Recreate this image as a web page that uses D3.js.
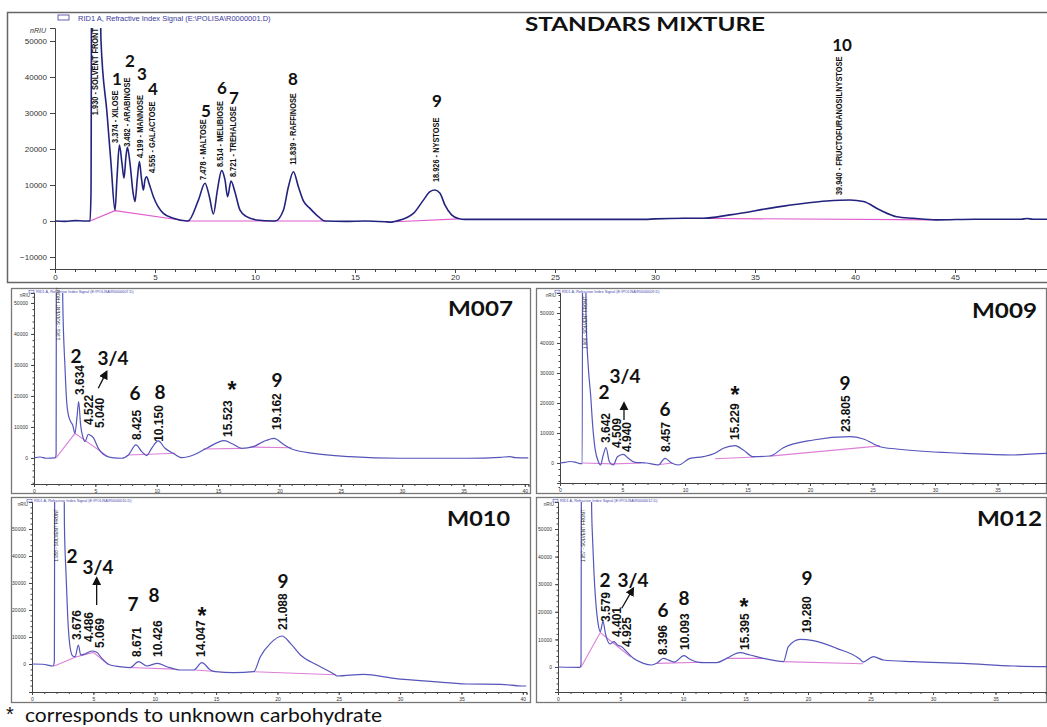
<!DOCTYPE html>
<html>
<head>
<meta charset="utf-8">
<script src="https://cdnjs.cloudflare.com/ajax/libs/d3/7.8.5/d3.min.js"></script>
<style>
  body { margin: 0; background: #fff; }
  svg { display: block; }
</style>
</head>
<body>
<div id="chart"></div>
<script>
// ---------- data: [retention time (min), signal (nRIU)] ----------
const mainSignal = [[0,0],[0.5,-100],[1.0,100],[1.5,0],[1.75,0],[1.8,8000],[1.85,120000],[2.15,120000],[2.3,50000],
  [2.6,30000],[2.8,16000],[3.0,3000],[3.1,12000],[3.22,21100],[3.35,16000],[3.45,11900],[3.55,18000],[3.62,20500],
  [3.75,16000],[3.9,8000],[4.0,5400],[4.12,12000],[4.22,16500],[4.32,12000],[4.42,8600],[4.5,11500],[4.58,12300],
  [4.7,10500],[4.92,6750],[5.42,2100],[5.92,750],[6.6,0],[6.65,0],[7.17,5800],[7.5,10500],[7.72,6750],[7.92,1950],
  [8.12,8600],[8.33,14000],[8.5,11400],[8.63,6750],[8.8,11100],[9.0,8000],[9.25,3000],[9.58,1200],[10.08,300],
  [10.9,0],[11.0,0],[11.42,3000],[11.67,9500],[11.92,13700],[12.17,9500],[12.42,5600],[12.75,3500],[13.17,1200],
  [13.5,0],[14.5,-100],[15.5,0],[16.5,-200],[16.8,-300],[17.08,0],[17.92,2100],[18.42,5800],[18.75,8150],[19.0,8600],
  [19.25,7700],[19.5,4400],[19.83,1700],[20.17,700],[20.5,450],[25,450],[29.5,450],[30.0,600],[31.5,750],[32.4,750],
  [33.75,1700],[36.25,4000],[38.58,5550],[39.75,5830],[40.42,5400],[41.25,3050],[42.08,1200],[42.92,750],[44.08,300],
  [46,500],[48.3,500],[48.6,700],[48.9,500],[49.6,500]];
const mainBaseline = [
  [[1.75,0],[3.0,2870],[6.6,0],[13.5,0]],
  [[17.0,-200],[20.2,600]],
  [[31.3,750],[44.1,300]]];
// rotated peak names: [time, signal at label foot, text]
const mainPeakNames = [[2.0,29400,"1.930 - SOLVENT FRONT"],[3.0,21700,"3.374 - XILOSE"],[3.6,20600,"3.482 - ARABINOSE"],
  [4.25,17500,"4.199 - MANNOSE"],[4.85,13300,"4.555 - GALACTOSE"],[7.4,11400,"7.478 - MALTOSE"],
  [8.25,15000,"8.514 - MELIBIOSE"],[8.9,12200,"8.721 - TREHALOSE"],[11.9,15600,"11.839 - RAFFINOSE"],
  [19.05,10800,"18.926 - NYSTOSE"],[39.2,7200,"39.940 - FRUCTOFURANOSILNYSTOSE"]];
const mainPeakNumbers = [[3.1,39700,"1"],[3.75,44700,"2"],[4.35,41100,"3"],[4.9,36900,"4"],[7.55,30800,"5"],
  [8.35,37200,"6"],[8.95,34200,"7"],[11.9,39700,"8"],[19.1,33600,"9"],[39.35,48900,"10"]];

const sampleNames = ["M007", "M009", "M010", "M012"];

const m007Signal = [[0,0],[0.5,300],[1.0,-100],[1.71,0],[1.8,1000],[1.85,150000],[2.2,150000],[2.34,51500],[2.53,28900],
  [2.66,18200],[2.8,13900],[2.99,11700],[3.15,10600],[3.34,7950],[3.5,13000],[3.64,18200],[3.8,10600],[4.0,6500],
  [4.16,5300],[4.43,7650],[4.6,7300],[4.83,6550],[5.24,3100],[5.65,1200],[6.33,100],[7.15,-100],[7.69,970],[8.31,4200],
  [8.78,2050],[9.18,750],[9.6,3200],[10.13,5480],[10.68,3120],[11.35,1500],[12.04,100],[13.0,970],[14.07,3120],
  [15.49,5590],[16.24,4410],[16.93,3120],[17.87,3650],[18.69,5270],[19.56,6340],[20.32,4410],[21.0,2900],[22.77,1500],
  [25.75,430],[29.83,-100],[35.3,-100],[38.0,200],[38.8,430],[39.2,100],[40.3,0]];
const m007Baseline = [[[1.8,0],[3.34,7950],[6.0,500]],[[7.7,970],[11.5,1500]],[[13.8,2900],[16.9,3100]],[[17.6,3500],[21.0,3300]]];
const m007Times = [[3.75,20300,"3.634"],[4.48,10650,"4.522"],[5.38,9680,"5.040"],[8.39,5800,"8.425"],
  [10.19,5200,"10.150"],[15.81,6770,"15.523"],[19.8,9030,"19.162"]];
const m007Numbers = [[3.42,33200,"2"],[6.44,32260,"3/4"],[8.23,21000,"6"],[10.27,21300,"8"],[16.14,22580,"*"],[19.8,25160,"9"]];
const m007Arrow = [[5.24,22490],[5.92,27840]];

const m009Signal = [[0,0],[0.4,200],[0.8,500],[1.2,300],[1.6,-200],[1.78,-200],[1.83,150000],[2.0,150000],[2.08,49300],
  [2.27,31600],[2.45,22700],[2.61,12700],[2.8,4900],[3.07,430],[3.25,-670],[3.45,2500],[3.68,5100],[3.95,430],
  [4.27,-670],[4.59,2100],[5.07,2900],[5.47,1550],[6.0,230],[6.9,0],[7.87,-670],[8.4,1550],[8.93,0],[9.47,-670],
  [10.4,1550],[11.47,2100],[12.4,3230],[13.07,4900],[14.0,5770],[14.67,4330],[15.47,2100],[16.8,2330],[17.87,5100],
  [20.27,7670],[23.2,8770],[24.27,8000],[25.6,5430],[26.93,4670],[32.27,3230],[36.27,2670],[38.9,3230],[39.0,3230]];
const m009Baseline = [[[1.8,0],[4.3,-300],[6.5,0]],[[7.8,-600],[9.0,0]],[[12.4,1400],[15.6,2000]],[[16.8,2300],[25.6,5700]]];
const m009Times = [[3.68,6670,"3.642"],[4.56,5000,"4.509"],[5.36,3670,"4.940"],[8.48,3670,"8.457"],
  [14.0,7670,"15.229"],[22.88,10330,"23.805"]];
const m009Numbers = [[3.52,23670,"2"],[5.2,29330,"3/4"],[8.4,18330,"6"],[14.0,23330,"*"],[22.8,27000,"9"]];
const m009Arrow = [[5.12,14330],[5.12,20000]];

const m010Signal = [[0,0],[0.87,-100],[1.74,-740],[1.82,1000],[1.88,150000],[2.5,150000],[2.64,52100],[2.77,33600],
  [2.91,17500],[3.1,6400],[3.32,2960],[3.51,2700],[3.78,7040],[3.97,3330],[4.33,3700],[4.87,4810],[5.28,4320],
  [5.69,2100],[6.37,-370],[7.18,-1000],[8.0,-1360],[8.68,860],[9.36,-740],[10.23,250],[11.0,-1000],[12.08,-2220],
  [13.17,-2220],[13.85,500],[14.53,-2220],[14.94,-2840],[16.43,-3210],[18.07,-2840],[18.61,2720],[19.43,7650],
  [20.38,10370],[21.06,7650],[21.88,3330],[23.24,-370],[24.6,-3700],[24.87,-4440],[27.04,-3820],[29.5,-5300],
  [32.7,-6550],[35.4,-7400],[38.2,-7520],[40.0,-8150],[40.3,-8150]];
const m010Baseline = [[[1.82,-700],[3.5,2500],[5.0,4300],[6.2,-200]],[[7.9,-1300],[11.6,-1900]],
  [[13.3,-2200],[14.9,-2800]],[[18.1,-2850],[24.7,-4000]]];
const m010Times = [[3.67,8890,"3.676"],[4.65,8150,"4.486"],[5.54,5930,"5.069"],[8.56,2590,"8.671"],
  [10.27,2590,"10.426"],[13.77,2590,"14.047"],[20.46,12590,"21.088"]];
const m010Numbers = [[3.26,40370,"2"],[5.38,35930,"3/4"],[8.23,22590,"7"],[9.94,25560,"8"],[13.85,18800,"*"],[20.46,31110,"9"]];
const m010Arrow = [[5.27,21850],[5.27,31850]];

const m012Signal = [[0,0],[1.76,-120],[1.84,1000],[1.9,150000],[2.6,150000],[2.69,58000],[2.77,46000],[2.88,33950],
  [3.01,24270],[3.2,16000],[3.38,12800],[3.6,16500],[3.8,12000],[4.16,8330],[4.48,9180],[4.75,7970],[5.09,7370],
  [5.49,5550],[6.03,3140],[6.83,1330],[7.49,725],[7.89,1330],[8.43,3140],[8.96,2290],[9.3,1800],[10.08,4110],
  [10.56,2780],[11.49,1570],[12.69,1570],[13.49,3140],[14.56,5190],[15.36,4350],[16.43,3140],[18.03,1930],
  [18.43,7370],[19.36,10020],[20.43,9540],[22.29,6760],[24.16,2780],[24.4,1800],[25.23,3740],[26.03,2540],
  [28.43,1930],[32.43,1330],[36.43,360],[39.1,120]];
const m012Baseline = [[[1.84,-120],[3.38,12500],[5.8,3700]],[[7.9,1300],[11.6,1700]],[[13.5,3140],[16.4,3140]],[[18.0,1930],[24.4,1200]]];
const m012Times = [[3.84,16300,"3.579"],[4.72,10870,"4.401"],[5.52,7250,"4.925"],[8.4,4350,"8.396"],
  [10.16,6160,"10.093"],[14.96,6160,"15.395"],[19.92,12320,"19.280"]];
const m012Numbers = [[3.76,31520,"2"],[6.0,31520,"3/4"],[8.4,20650,"6"],[10.08,25000,"8"],[14.88,22400,"*"],[19.92,32250,"9"]];
const m012Arrow = [[5.1,21270],[6.02,28510]];

const mainYTicks = [-10000, 0, 10000, 20000, 30000, 40000, 50000];
const panelYTicks = [0, 10000, 20000, 30000, 40000, 50000];

// ---------- layout ----------
const W = 1047, H = 727;
const svg = d3.select("#chart").append("svg").attr("width", W).attr("height", H);

svg.append("defs").append("marker")
  .attr("id", "arrowhead").attr("viewBox", "0 0 10 10").attr("refX", 8).attr("refY", 5)
  .attr("markerWidth", 7).attr("markerHeight", 7).attr("orient", "auto-start-reverse")
  .append("path").attr("d", "M0,0 L10,5 L0,10 z").attr("fill", "#111");

const boldFont = "Lato, 'Open Sans', sans-serif";
const arialFont = "'Liberation Sans', Arial, sans-serif";
const plain = d3.format("d");

const line = (x, y) => d3.line().x(d => x(d[0])).y(d => y(d[1])).curve(d3.curveMonotoneX);

function drawCurves(g, x, y, signal, baselines, id, color, width, pink) {
  const [x0, x1] = x.range(), [y0, y1] = y.range();
  svg.select("defs").append("clipPath").attr("id", id)
    .append("rect").attr("x", x0).attr("y", y1).attr("width", x1 - x0).attr("height", y0 - y1);
  const c = g.append("g").attr("clip-path", `url(#${id})`);
  baselines.forEach(seg => {
    c.append("path").attr("d", d3.line().x(d => x(d[0])).y(d => y(d[1]))(seg))
      .attr("fill", "none").attr("stroke", pink).attr("stroke-width", 1.1);
  });
  c.append("path").attr("d", line(x, y)(signal))
    .attr("fill", "none").attr("stroke", color).attr("stroke-width", width).attr("stroke-linejoin", "round");
}

function styleAxis(sel, size) {
  sel.selectAll("text").attr("font-family", arialFont).attr("font-size", size).attr("fill", "#333");
  sel.selectAll("line, path").attr("stroke", "#444");
}

// star marks look like Calibri's big asterisk, so draw them in Arial
function starOrNumber(sel, size) {
  sel.attr("font-family", d => d[2] === "*" ? arialFont : boldFont)
    .attr("font-size", d => d[2] === "*" ? size + 4 : size)
    .attr("dy", d => d[2] === "*" ? "0.1em" : 0);
}

// ---------- main panel: standards mixture ----------
svg.append("rect").attr("x", 7.5).attr("y", 12.5).attr("width", 1045).attr("height", 270)
  .attr("fill", "none").attr("stroke", "#666").attr("stroke-width", 1.5);

const mx = d3.scaleLinear().domain([0, 49.6]).range([55, 1047]);
const my = d3.scaleLinear().domain([-13333, 53611]).range([269, 28]);
const mg = svg.append("g");

mg.append("g").attr("transform", "translate(0,269)")
  .call(d3.axisBottom(mx).tickValues(d3.range(0, 50, 1)).tickSize(3).tickFormat(""))
  .call(s => styleAxis(s, 8));
mg.append("g").attr("transform", "translate(0,269)")
  .call(d3.axisBottom(mx).tickValues(d3.range(0, 50, 5)).tickSize(4).tickPadding(1).tickFormat(plain))
  .call(s => styleAxis(s, 8));
mg.append("g").attr("transform", "translate(55,0)")
  .call(d3.axisLeft(my).tickValues(mainYTicks).tickSize(5).tickPadding(3).tickFormat(plain))
  .call(s => styleAxis(s, 8));

mg.append("text").attr("x", 30).attr("y", 33).text("nRIU")
  .attr("font-family", arialFont).attr("font-size", 7).attr("font-style", "italic").attr("fill", "#333");
mg.append("rect").attr("x", 58).attr("y", 15).attr("width", 11).attr("height", 5)
  .attr("fill", "none").attr("stroke", "#3a3aa0").attr("stroke-width", 0.8);
mg.append("text").attr("x", 78).attr("y", 20.5).text("RID1 A, Refractive Index Signal (E:\\POLISA\\R0000001.D)")
  .attr("font-family", arialFont).attr("font-size", 7.5).attr("fill", "#3a3aa0");

drawCurves(mg, mx, my, mainSignal, mainBaseline, "clipMain", "#23237e", 1.6, "#e05ccc");

mg.selectAll(".pname").data(mainPeakNames).join("text")
  .attr("transform", d => `translate(${mx(d[0])},${my(d[1])}) rotate(-90)`)
  .attr("dy", "0.35em").attr("font-family", arialFont).attr("font-weight", "bold")
  .attr("font-size", 9.5).attr("fill", "#111").text(d => d[2])
  .each(function() {
    const len = this.getComputedTextLength();
    d3.select(this).attr("textLength", len * 0.78).attr("lengthAdjust", "spacingAndGlyphs");
  });

mg.selectAll(".pnum").data(mainPeakNumbers).join("text")
  .attr("x", d => mx(d[0])).attr("y", d => my(d[1]))
  .attr("text-anchor", "middle").attr("dominant-baseline", "central")
  .attr("font-family", boldFont).attr("font-weight", "bold").attr("font-size", 17).attr("fill", "#111")
  .text(d => d[2]);

mg.append("text").attr("x", 645).attr("y", 31).attr("text-anchor", "middle")
  .attr("font-family", boldFont).attr("font-weight", "bold").attr("font-size", 19).attr("fill", "#111")
  .attr("textLength", 240).attr("lengthAdjust", "spacingAndGlyphs")
  .text("STANDARS MIXTURE");

// ---------- sample panels ----------
const panelLayout = {
  M007: {frame: [11, 288, 519, 205], xr: [34, 528.5], xd: 40.3, yd: [-8400, 53200], yr: [484, 293], name: [448, 316, 65]},
  M009: {frame: [536, 288, 510, 205], xr: [560, 1047.5], xd: 39.0, yd: [-6667, 56667], yr: [483, 293], name: [972, 318, 65]},
  M010: {frame: [11, 497, 519, 205], xr: [32, 526.5], xd: 40.3, yd: [-10370, 60000], yr: [692, 502], name: [447, 526, 63]},
  M012: {frame: [536, 497, 510, 205], xr: [558, 1046.75], xd: 39.1, yd: [-9060, 59780], yr: [692, 502], name: [977, 526, 65]}
};
const panelData = {
  M007: [m007Signal, m007Baseline, m007Times, m007Numbers, m007Arrow, "1.961 - SOLVENT FRONT", "R0000007.D"],
  M009: [m009Signal, m009Baseline, m009Times, m009Numbers, m009Arrow, "1.966 - SOLVENT FRONT", "R0000009.D"],
  M010: [m010Signal, m010Baseline, m010Times, m010Numbers, m010Arrow, "1.958 - SOLVENT FRONT", "R0000010.D"],
  M012: [m012Signal, m012Baseline, m012Times, m012Numbers, m012Arrow, "1.957 - SOLVENT FRONT", "R0000012.D"]
};

sampleNames.forEach(name => {
  const L = panelLayout[name];
  const [signal, baselines, times, numbers, arrow, solvent, file] = panelData[name];
  const g = svg.append("g");
  const [fx, fy, fw, fh] = L.frame;
  g.append("rect").attr("x", fx + 0.5).attr("y", fy + 0.5).attr("width", fw).attr("height", fh)
    .attr("fill", "none").attr("stroke", "#777").attr("stroke-width", 1.3);

  const x = d3.scaleLinear().domain([0, L.xd]).range(L.xr);
  const y = d3.scaleLinear().domain(L.yd).range(L.yr);

  g.append("g").attr("transform", `translate(0,${L.yr[0]})`)
    .call(d3.axisBottom(x).tickValues(d3.range(0, L.xd, 1)).tickSize(2).tickFormat(""))
    .call(s => styleAxis(s, 5));
  g.append("g").attr("transform", `translate(0,${L.yr[0]})`)
    .call(d3.axisBottom(x).tickValues(d3.range(0, L.xd, 5)).tickSize(3).tickPadding(2).tickFormat(plain))
    .call(s => styleAxis(s, 5));
  g.append("g").attr("transform", `translate(${L.xr[0]},0)`)
    .call(d3.axisLeft(y).tickValues(d3.range(-8000, L.yd[1], 2000)).tickSize(1.5).tickFormat(""))
    .call(s => styleAxis(s, 5));
  g.append("g").attr("transform", `translate(${L.xr[0]},0)`)
    .call(d3.axisLeft(y).tickValues(panelYTicks).tickSize(3).tickPadding(3).tickFormat(plain))
    .call(s => styleAxis(s, 5));

  g.append("text").attr("x", L.xr[0] - 4).attr("y", L.yr[1] + 4).attr("text-anchor", "end").text("nRIU")
    .attr("font-family", arialFont).attr("font-size", 4.5).attr("fill", "#333");
  g.append("rect").attr("x", L.xr[0] - 5).attr("y", fy + 2.5).attr("width", 5).attr("height", 2.5)
    .attr("fill", "none").attr("stroke", "#4646b0").attr("stroke-width", 0.5);
  g.append("text").attr("x", L.xr[0] + 2).attr("y", fy + 5).text(`RID1 A, Refractive Index Signal (E:\\POLISA\\${file})`)
    .attr("font-family", arialFont).attr("font-size", 3.8).attr("fill", "#4646b0");

  drawCurves(g, x, y, signal, baselines, "clip" + name, "#5555bb", 1.2, "#dd80d8");

  // solvent front tag
  g.append("text")
    .attr("transform", `translate(${x(2.0)},${y(38000)}) rotate(-90)`)
    .attr("dy", "0.35em").attr("font-family", arialFont).attr("font-size", 4.5).attr("fill", "#333")
    .text(solvent);

  g.selectAll(".rt").data(times).join("text")
    .attr("transform", d => `translate(${x(d[0])},${y(d[1])}) rotate(-90)`)
    .attr("dy", "0.35em").attr("font-family", arialFont).attr("font-weight", "bold")
    .attr("font-size", 12).attr("fill", "#111").text(d => d[2]);

  g.selectAll(".num").data(numbers).join("text")
    .attr("x", d => x(d[0])).attr("y", d => y(d[1]))
    .attr("text-anchor", "middle").attr("dominant-baseline", "central")
    .attr("font-weight", "bold").attr("fill", "#111").text(d => d[2])
    .call(s => starOrNumber(s, 19));

  g.append("line")
    .attr("x1", x(arrow[0][0])).attr("y1", y(arrow[0][1]))
    .attr("x2", x(arrow[1][0])).attr("y2", y(arrow[1][1]))
    .attr("stroke", "#111").attr("stroke-width", 1.3).attr("marker-end", "url(#arrowhead)");

  g.append("text").attr("x", L.name[0]).attr("y", L.name[1])
    .attr("font-family", boldFont).attr("font-weight", "bold").attr("font-size", 21).attr("fill", "#111")
    .attr("textLength", L.name[2]).attr("lengthAdjust", "spacingAndGlyphs").text(name);
});

// ---------- footnote ----------
svg.append("text").attr("x", 6).attr("y", 721)
  .attr("font-family", arialFont).attr("font-size", 20).attr("fill", "#111").text("*");
svg.append("text").attr("x", 25).attr("y", 722)
  .attr("font-family", boldFont).attr("font-size", 19).attr("fill", "#111")
  .attr("textLength", 357).attr("lengthAdjust", "spacingAndGlyphs")
  .text("corresponds to unknown carbohydrate");
</script>
</body>
</html>
